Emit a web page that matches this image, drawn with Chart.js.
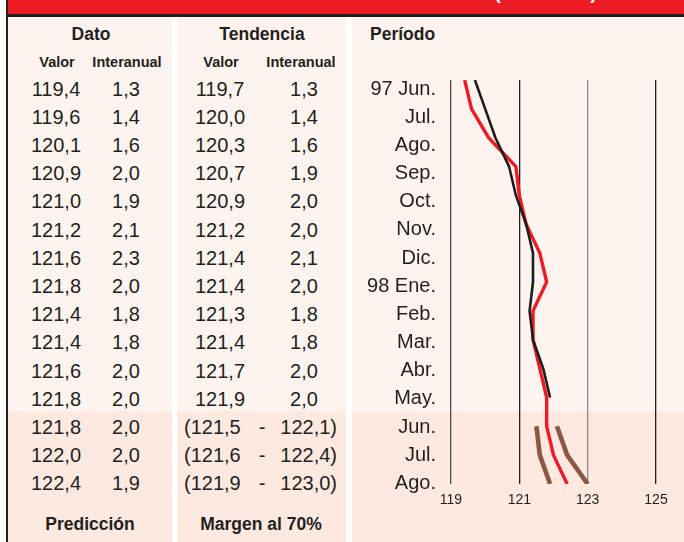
<!DOCTYPE html>
<html>
<head>
<meta charset="utf-8">
<script src="https://cdn.jsdelivr.net/npm/chart.js@4/dist/chart.umd.min.js"></script>
<style>
  html, body { margin: 0; padding: 0; background: #ffffff; }
  body { width: 684px; height: 542px; position: relative; overflow: hidden;
         font-family: 'Liberation Sans', Arial, Helvetica, sans-serif; color: #231f20; }
  .abs { position: absolute; }
  .panel { position: absolute; top: 17px; height: 525px; background: #fef4ef; }
  .pred { position: absolute; left: 0; right: 0; top: 394px; bottom: 0; background: #fde9e0; }
  .t { position: absolute; white-space: nowrap; line-height: 20px; height: 20px; }
  .c { transform: translateX(-50%); text-align: center; }
  .r { transform: translateX(-100%); text-align: right; }
  .num { font-size: 20px; }
  .h1 { font-size: 17.5px; font-weight: bold; }
  .h2 { font-size: 14.5px; font-weight: bold; }
  #chart { position: absolute; left: 352px; top: 0; }
</style>
</head>
<body>
<div class="abs" style="left:8px;top:0;width:676px;height:14px;background:#ed1c24;overflow:hidden;">
  <div id="title" class="t" style="right:87px;top:-18px;font-size:20px;font-weight:bold;color:#fff;line-height:20px;height:20px;">ÍNDICE DE PRECIOS DE CONSUMO (1992=100)</div>
</div>
<div class="abs" style="left:6px;top:0;width:2px;height:542px;background:#231f20;"></div>
<div class="abs" style="left:6px;top:14px;width:678px;height:2.5px;background:#231f20;"></div>

<div class="panel" style="left:8px;width:164px;"><div class="pred"></div></div>
<div class="panel" style="left:177px;width:169px;"><div class="pred"></div></div>
<div class="panel" style="left:352px;width:332px;"><div class="pred"></div></div>

<div id="texts"></div>
<canvas id="chart" width="332" height="542"></canvas>

<script>
// ---- data ----
const periods   = ["97 Jun.", "Jul.", "Ago.", "Sep.", "Oct.", "Nov.", "Dic.", "98 Ene.", "Feb.", "Mar.", "Abr.", "May.", "Jun.", "Jul.", "Ago."];
const datoValor = [119.4, 119.6, 120.1, 120.9, 121.0, 121.2, 121.6, 121.8, 121.4, 121.4, 121.6, 121.8, 121.8, 122.0, 122.4];
const datoInter = [1.3, 1.4, 1.6, 2.0, 1.9, 2.1, 2.3, 2.0, 1.8, 1.8, 2.0, 2.0, 2.0, 2.0, 1.9];
const tendValor = [119.7, 120.0, 120.3, 120.7, 120.9, 121.2, 121.4, 121.4, 121.3, 121.4, 121.7, 121.9];
const tendInter = [1.3, 1.4, 1.6, 1.9, 2.0, 2.0, 2.1, 2.0, 1.8, 1.8, 2.0, 2.0];
const margenLow  = [121.5, 121.6, 121.9];
const margenHigh = [122.1, 122.4, 123.0];
const xTicks = [119, 121, 123, 125];

// ---- table text ----
const fmt = v => v.toFixed(1).replace('.', ',');
const rowY = i => 88.5 + 28.2 * i;   // row centre
const box = document.getElementById('texts');
function put(txt, x, yc, cls) {
  const d = document.createElement('div');
  d.className = 't ' + cls;
  d.textContent = txt;
  d.style.left = x + 'px';
  d.style.top = (yc - 10) + 'px';
  box.appendChild(d);
}
put('Dato', 91, 34, 'c h1');
put('Tendencia', 262, 34, 'c h1');
put('Período', 370, 34, 'h1');
put('Valor', 57, 62, 'c h2');
put('Interanual', 127, 62, 'c h2');
put('Valor', 221, 62, 'c h2');
put('Interanual', 301, 62, 'c h2');
datoValor.forEach((v, i) => put(fmt(v), 56, rowY(i), 'c num'));
datoInter.forEach((v, i) => put(fmt(v), 126, rowY(i), 'c num'));
tendValor.forEach((v, i) => put(fmt(v), 220, rowY(i), 'c num'));
tendInter.forEach((v, i) => put(fmt(v), 304, rowY(i), 'c num'));
const nObs = tendValor.length;
margenLow.forEach((v, k) => {
  const y = rowY(nObs + k);
  put('(' + fmt(v), 184, y, 'num');
  put('-', 262, y, 'c num');
  put(fmt(margenHigh[k]) + ')', 337, y, 'r num');
});
put('Predicción', 90, 524, 'c h1');
put('Margen al 70%', 261, 524, 'c h1');

// ---- chart ----
Chart.defaults.font.family = "'Liberation Sans', Arial, Helvetica, sans-serif";
Chart.defaults.color = '#231f20';
const pts = (arr, start) => arr.map((v, i) => ({ x: v, y: start + i }));
const gridCols = { 119: '#4d4d4d', 121: '#231f20', 123: '#8a8a8a', 125: '#231f20' };

new Chart(document.getElementById('chart'), {
  type: 'line',
  data: {
    datasets: [
      { label: 'Tendencia', data: pts(tendValor, 0), borderColor: '#1d1d1b', borderWidth: 2.6, order: 0, yAxisID: 'y' },
      { label: 'Dato', data: pts(datoValor, 0), borderColor: '#ed1c24', borderWidth: 3.4, order: 1, yAxisID: 'y' },
      { label: 'Margen inferior', data: pts(margenLow, nObs), borderColor: '#8b5842', borderWidth: 4.6, order: 2, yAxisID: 'y' },
      { label: 'Margen superior', data: pts(margenHigh, nObs), borderColor: '#8b5842', borderWidth: 4.6, order: 2, yAxisID: 'y' }
    ]
  },
  options: {
    responsive: false,
    animation: false,
    devicePixelRatio: 1,
    layout: { padding: { top: 80, right: 28, left: 0, bottom: 0 } },
    plugins: { legend: { display: false }, tooltip: { enabled: false } },
    elements: {
      point: { radius: 0 },
      line: { tension: 0, borderJoinStyle: 'round', fill: false }
    },
    scales: {
      x: {
        type: 'linear', min: 119, max: 125,
        afterBuildTicks: s => { s.ticks = xTicks.map(v => ({ value: v })); },
        afterFit: s => { s.height = 58; },
        border: { display: false },
        grid: { drawTicks: false, lineWidth: 1.3, color: c => gridCols[c.tick && c.tick.value] || '#231f20' },
        ticks: { padding: 8, font: { size: 14 }, color: '#231f20', autoSkip: false }
      },
      y: {
        type: 'linear', display: false, min: 0, max: 14, reverse: true
      },
      yl: {
        type: 'linear', position: 'left', min: -0.319, max: 14.018, reverse: true,
        afterBuildTicks: s => { s.ticks = periods.map((p, i) => ({ value: i })); },
        afterFit: s => { s.width = 99; },
        border: { display: false },
        grid: { display: false, drawTicks: false },
        ticks: { padding: 15, autoSkip: false, font: { size: 20 }, color: '#231f20',
                 callback: v => periods[v] }
      }
    }
  }
});
</script>
</body>
</html>
